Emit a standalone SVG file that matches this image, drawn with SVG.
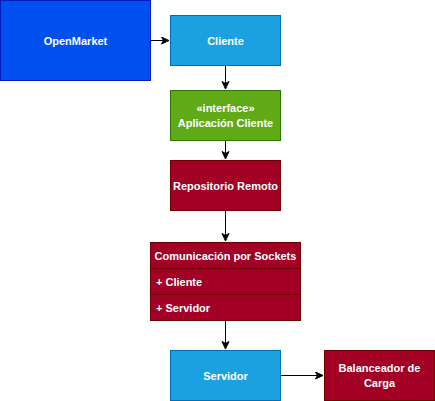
<svg xmlns="http://www.w3.org/2000/svg" width="435" height="401" viewBox="0 0 435 401">
<style>
text{font-family:"Liberation Sans",Arial,sans-serif;font-size:11px;font-weight:bold;fill:#ffffff}
.c{text-anchor:middle;dominant-baseline:central}
.l{dominant-baseline:central}
.blue{fill:#0050EF;stroke:#001DBC}
.lb{fill:#1BA1E2;stroke:#006EAF}
.gr{fill:#60A917;stroke:#2D7600}
.rd{fill:#A20025;stroke:#6F0000}
.e{stroke:#000;stroke-width:1;fill:none;marker-end:url(#a)}
</style>
<defs>
<marker id="a" markerWidth="10" markerHeight="10" refX="8" refY="4" orient="auto" markerUnits="userSpaceOnUse">
<path d="M0.5,0.5 L8,4 L0.5,7.5 L2.5,4 Z" fill="#000" stroke="#000" stroke-width="1"/>
</marker>
</defs>
<g id="edges">
<path class="e" d="M150.5,40.5 H169"/>
<path class="e" d="M225.5,65.5 V89"/>
<path class="e" d="M225.5,140.5 V159"/>
<path class="e" d="M225.5,210.5 V241"/>
<path class="e" d="M225.5,320.5 V349"/>
<path class="e" d="M280.5,375.5 H323"/>
</g>
<g id="openmarket"><rect class="blue" x="0.5" y="0.5" width="150" height="80"/><text class="c" x="75.5" y="40.5">OpenMarket</text></g>
<g id="cliente"><rect class="lb" x="170.5" y="15.5" width="110" height="50"/><text class="c" x="225.5" y="40.5">Cliente</text></g>
<g id="aplicacion"><rect class="gr" x="170.5" y="90.5" width="110" height="50"/><text class="c" x="225.5" y="108">«interface»</text><text class="c" x="225.5" y="123">Aplicación Cliente</text></g>
<g id="repositorio"><rect class="rd" x="170.5" y="160.5" width="110" height="50"/><text class="c" x="225.5" y="185.5">Repositorio Remoto</text></g>
<g id="comunicacion">
<rect class="rd" x="150.5" y="242.5" width="150" height="26"/>
<rect class="rd" x="150.5" y="268.5" width="150" height="26"/>
<rect class="rd" x="150.5" y="294.5" width="150" height="26"/>
<text class="c" x="225.5" y="255.5">Comunicación por Sockets</text>
<text class="l" x="156" y="281.5">+ Cliente</text>
<text class="l" x="156" y="307.5">+ Servidor</text>
</g>
<g id="servidor"><rect class="lb" x="170.5" y="350.5" width="110" height="50"/><text class="c" x="225.5" y="375.5">Servidor</text></g>
<g id="balanceador"><rect class="rd" x="324.5" y="350.5" width="110" height="50"/><text class="c" x="379.5" y="368">Balanceador de</text><text class="c" x="379.5" y="383">Carga</text></g>
</svg>
